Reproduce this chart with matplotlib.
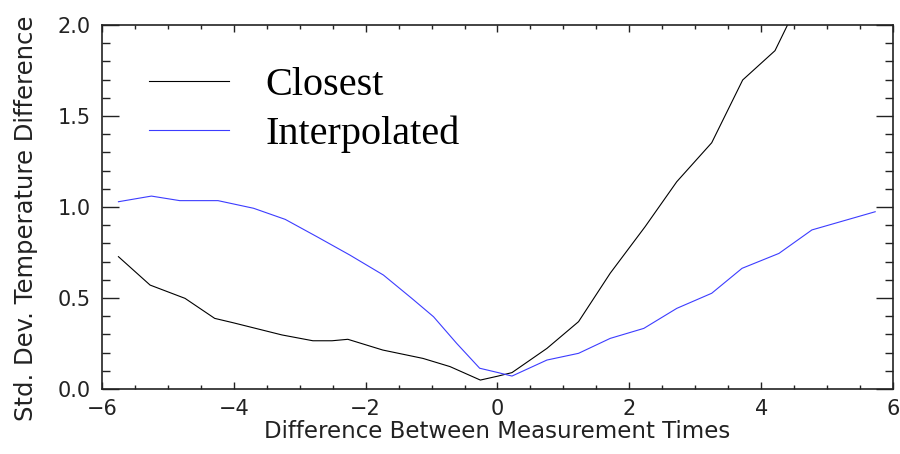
import numpy as np
import matplotlib
matplotlib.use('Agg')
import matplotlib.pyplot as plt

# values
closest_x = [-5.75, -5.27, -4.74, -4.29, -4.01, -3.27, -2.80, -2.51, -2.27, -1.74,
             -1.13, -0.72, -0.26, 0.01, 0.22, 0.75, 1.23, 1.71, 2.24, 2.72,
             3.25, 3.72, 4.21, 4.40, 4.75]
closest_y = [0.727, 0.571, 0.498, 0.388, 0.364, 0.297, 0.265, 0.265, 0.273, 0.214,
             0.168, 0.123, 0.049, 0.071, 0.090, 0.223, 0.370, 0.636, 0.892, 1.139,
             1.353, 1.698, 1.859, 2.000, 2.300]

interp_x = [-5.75, -5.25, -4.82, -4.24, -3.70, -3.22, -2.74, -2.24, -1.73, -1.30,
            -0.97, -0.62, -0.27, 0.01, 0.22, 0.75, 1.23, 1.71, 2.22, 2.72,
            3.25, 3.71, 4.27, 4.77, 5.73]
interp_y = [1.029, 1.060, 1.035, 1.035, 0.993, 0.932, 0.837, 0.736, 0.626, 0.498,
            0.397, 0.251, 0.114, 0.090, 0.071, 0.159, 0.196, 0.278, 0.333, 0.443,
            0.526, 0.663, 0.745, 0.874, 0.974]

labels = ['Closest', 'Interpolated']
colors = ['black', '#3c3cff']

fig = plt.figure(figsize=(9, 4.54), dpi=100)
ax = fig.add_axes([0.1133, 0.1432, 0.8789, 0.8017])

ax.plot(closest_x, closest_y, color=colors[0], lw=0.8, label=labels[0])
ax.plot(interp_x, interp_y, color=colors[1], lw=0.8, label=labels[1])

ax.set_xlim(-6, 6)
ax.set_ylim(0, 2)
ax.set_xticks(np.arange(-6, 6.1, 2))
ax.set_xticks(np.arange(-6, 6.1, 0.5), minor=True)
ax.set_yticks(np.arange(0, 2.01, 0.5))
ax.set_yticks(np.arange(0, 2.01, 0.1), minor=True)
ax.yaxis.set_major_formatter(matplotlib.ticker.FormatStrFormatter('%.1f'))
ax.xaxis.set_major_formatter(matplotlib.ticker.FuncFormatter(
    lambda v, p: ('\u2212%d' % -v) if v < 0 else '%d' % v))

ax.tick_params(axis='both', which='both', direction='in', top=True, right=True,
               color='#222222', width=1.0)
ax.tick_params(axis='x', which='major', length=5, labelsize=15, pad=7)
ax.tick_params(axis='x', which='minor', length=3)
ax.tick_params(axis='y', which='major', length=12.5, labelsize=15, pad=8)
ax.tick_params(axis='y', which='minor', length=6)
for lbl in ax.get_xticklabels() + ax.get_yticklabels():
    lbl.set_color('#222222')
for s in ax.spines.values():
    s.set_linewidth(1.2)
    s.set_color('#222222')

ax.set_xlabel('Difference Between Measurement Times', fontsize=16.5, color='#222222',
              labelpad=1)
ax.set_ylabel('Std. Dev. Temperature Difference', fontsize=17.5, color='#222222')
ax.yaxis.set_label_coords(-0.081, 0.47)

ax.legend(loc='upper left', bbox_to_anchor=(0.039, 0.93), frameon=False,
          prop={'family': 'Liberation Serif', 'size': 29},
          handlelength=2.0, handletextpad=0.9, labelspacing=0.3,
          borderaxespad=0)

fig.savefig('out.png', dpi=100)
